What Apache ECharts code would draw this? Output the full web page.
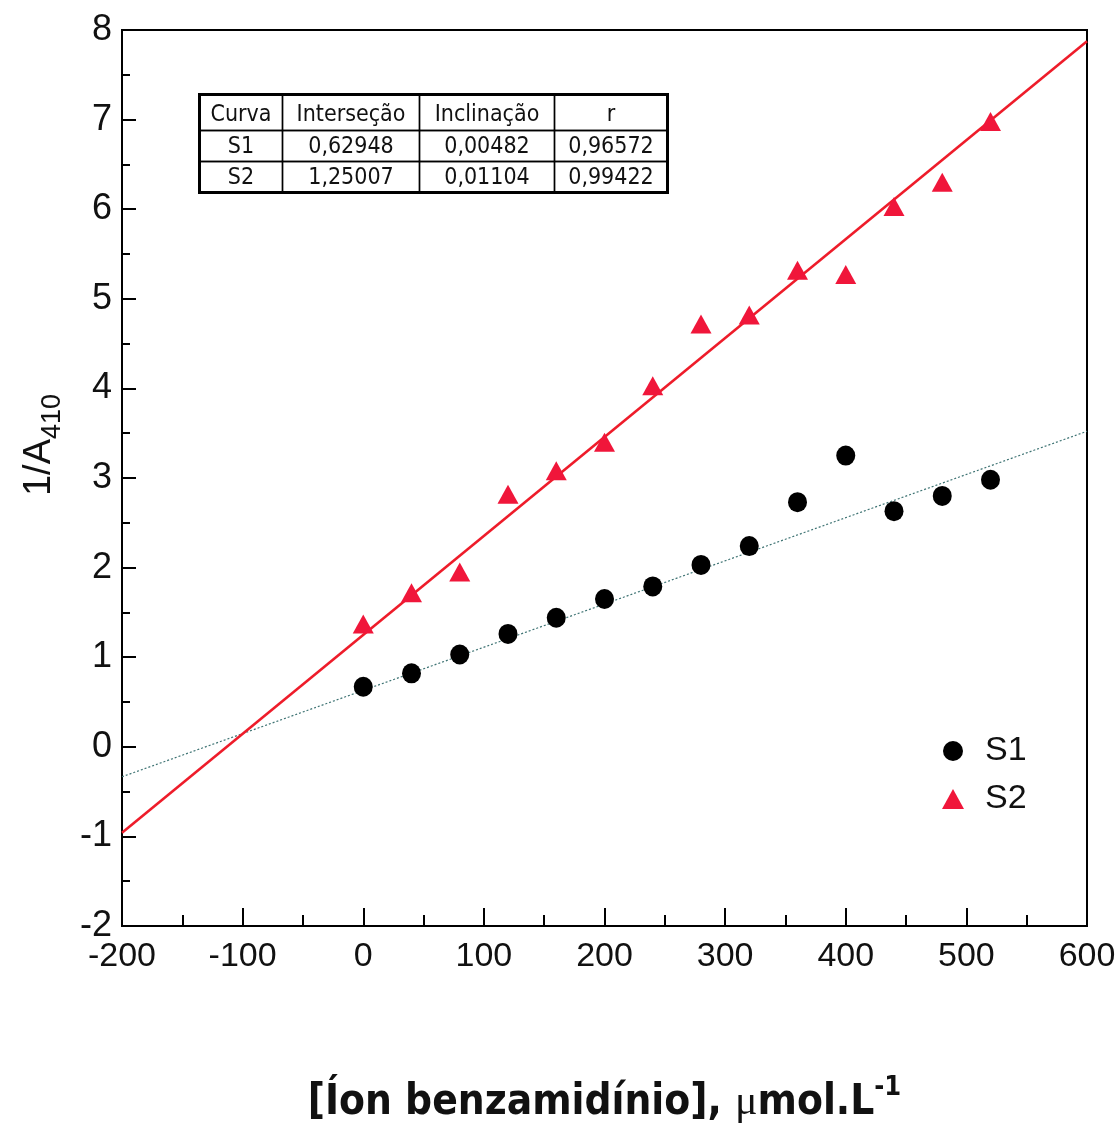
<!DOCTYPE html>
<html>
<head>
<meta charset="utf-8">
<title>1/A410 vs [Íon benzamidínio]</title>
<script src="https://cdn.jsdelivr.net/npm/echarts@6/dist/echarts.min.js"></script>
<style>
  html, body { margin: 0; padding: 0; background: #ffffff; }
  #chart { width: 1119px; height: 1133px; }
</style>
</head>
<body>
<div id="chart"></div>
<script>
// Concentration of benzamidinium ion (µmol/L)
const concentration = [0, 40, 80, 120, 160, 200, 240, 280, 320, 360, 400, 440, 480, 520];

// 1/A410 measured for each curve
const s1Values = [0.67, 0.82, 1.03, 1.26, 1.44, 1.65, 1.79, 2.03, 2.24, 2.73, 3.25, 2.63, 2.80, 2.98];
const s2Values = [1.37, 1.72, 1.95, 2.82, 3.08, 3.40, 4.03, 4.72, 4.82, 5.32, 5.27, 6.03, 6.30, 6.98];

// Linear fit parameters (intercept, slope, r) per curve
const curveNames = ['S1', 'S2'];
const fitIntercept = [0.62948, 1.25007];
const fitSlope = [0.00482, 0.01104];
const fitR = [0.96572, 0.99422];
const tableHeader = ['Curva', 'Interseção', 'Inclinação', 'r'];

// Axis ranges
const xRange = [-200, 600];
const yRange = [-2, 8];

const fmt = (v) => v.toFixed(5).replace('.', ',');

const scatterPoints = (ys) => concentration.map((x, i) => [x, ys[i]]);
const fitLine = (k) => xRange.map(x => [x, fitIntercept[k] + fitSlope[k] * x]);

// Fit summary table drawn as a graphic group
const colW = [83, 137, 135, 113];
const rowH = [36, 31, 31];
const tableRows = [tableHeader].concat(curveNames.map((n, k) => [n, fmt(fitIntercept[k]), fmt(fitSlope[k]), fmt(fitR[k])]));
const tableChildren = [];
let yy = 0;
tableRows.forEach((row, r) => {
  let xx = 0;
  row.forEach((txt, c) => {
    tableChildren.push({
      type: 'rect',
      shape: { x: xx, y: yy, width: colW[c], height: rowH[r] },
      style: { fill: 'none', stroke: '#000', lineWidth: 1.4 }
    });
    tableChildren.push({
      type: 'text',
      x: xx + colW[c] / 2,
      y: yy + rowH[r] / 2 + (r === 0 ? 3 : 1),
      style: {
        text: txt,
        font: '23px "DejaVu Sans Condensed"',
        fill: '#111',
        align: 'center', verticalAlign: 'middle',
        textAlign: 'center', textVerticalAlign: 'middle'
      }
    });
    xx += colW[c];
  });
  yy += rowH[r];
});
const tableW = colW.reduce((a, b) => a + b, 0);
const tableH = rowH.reduce((a, b) => a + b, 0);
tableChildren.push({
  type: 'rect',
  shape: { x: 0, y: 0, width: tableW, height: tableH },
  style: { fill: 'none', stroke: '#000', lineWidth: 3 }
});

const chart = echarts.init(document.getElementById('chart'), null, { renderer: 'canvas' });

chart.setOption({
  backgroundColor: '#ffffff',
  animation: false,
  grid: {
    left: 122, right: 32, top: 30, bottom: 207,
    show: true, borderColor: '#000', borderWidth: 2, backgroundColor: 'transparent'
  },
  legend: {
    data: curveNames,
    orient: 'vertical',
    left: 937, top: 729,
    itemWidth: 22, itemHeight: 20, itemGap: 14,
    textStyle: { fontFamily: 'Liberation Sans', fontSize: 34, color: '#111', padding: [0, 0, 0, 16] }
  },
  xAxis: {
    type: 'value',
    min: xRange[0], max: xRange[1], interval: 100,
    axisLine: { show: true, onZero: false, lineStyle: { color: '#000', width: 2 } },
    axisTick: { show: true, inside: true, length: 18, lineStyle: { color: '#000', width: 2 } },
    minorTick: { show: true, splitNumber: 2, length: 11, lineStyle: { color: '#000', width: 2 } },
    splitLine: { show: false },
    axisLabel: { margin: 14, fontFamily: 'Liberation Sans', fontSize: 34, color: '#111' },
    name: '{b|[Íon benzamidínio], }{mu|μ}{b|mol.L}{sup|-1}',
    nameLocation: 'middle',
    nameGap: 148,
    nameTextStyle: {
      rich: {
        b: { fontFamily: 'DejaVu Sans Condensed', fontWeight: 'bold', fontSize: 42, color: '#111', lineHeight: 58 },
        mu: { fontFamily: 'Liberation Serif', fontSize: 42, color: '#111', lineHeight: 58 },
        sup: { fontFamily: 'DejaVu Sans Condensed', fontWeight: 'bold', fontSize: 27, color: '#111', lineHeight: 27, verticalAlign: 'top' }
      }
    }
  },
  yAxis: {
    type: 'value',
    min: yRange[0], max: yRange[1], interval: 1,
    axisLine: { show: true, onZero: false, lineStyle: { color: '#000', width: 2 } },
    axisTick: { show: true, inside: true, length: 14, lineStyle: { color: '#000', width: 2 } },
    minorTick: { show: true, splitNumber: 2, length: 8, lineStyle: { color: '#000', width: 2 } },
    splitLine: { show: false },
    axisLabel: { margin: 10, fontFamily: 'Liberation Sans', fontSize: 36, color: '#111' },
    name: '{a|1/A}{s|410}',
    nameLocation: 'middle',
    nameRotate: 90,
    nameGap: 56,
    nameTextStyle: {
      padding: [0, 0, 0, 66],
      rich: {
        a: { fontFamily: 'Liberation Sans', fontSize: 38, color: '#111', lineHeight: 52 },
        s: { fontFamily: 'Liberation Sans', fontSize: 27, color: '#111', lineHeight: 27, verticalAlign: 'bottom' }
      }
    }
  },
  graphic: [
    { type: 'group', left: 197, top: 92, children: tableChildren }
  ],
  series: [
    {
      name: 'S1 ajuste', type: 'line', data: fitLine(0),
      showSymbol: false, silent: true, z: 1,
      lineStyle: { color: '#3f7474', width: 1.2, type: [2, 2] }
    },
    {
      name: 'S2 ajuste', type: 'line', data: fitLine(1),
      showSymbol: false, silent: true, z: 1,
      lineStyle: { color: '#ee1c2a', width: 2.6, type: 'solid' }
    },
    {
      name: 'S1', type: 'scatter', data: scatterPoints(s1Values),
      symbol: 'circle', symbolSize: [19, 20], z: 3,
      itemStyle: { color: '#000', opacity: 1 }
    },
    {
      name: 'S2', type: 'scatter', data: scatterPoints(s2Values),
      symbol: 'triangle', symbolSize: [21, 19], z: 3,
      itemStyle: { color: '#f0163a', opacity: 1 }
    }
  ]
});
</script>
</body>
</html>
